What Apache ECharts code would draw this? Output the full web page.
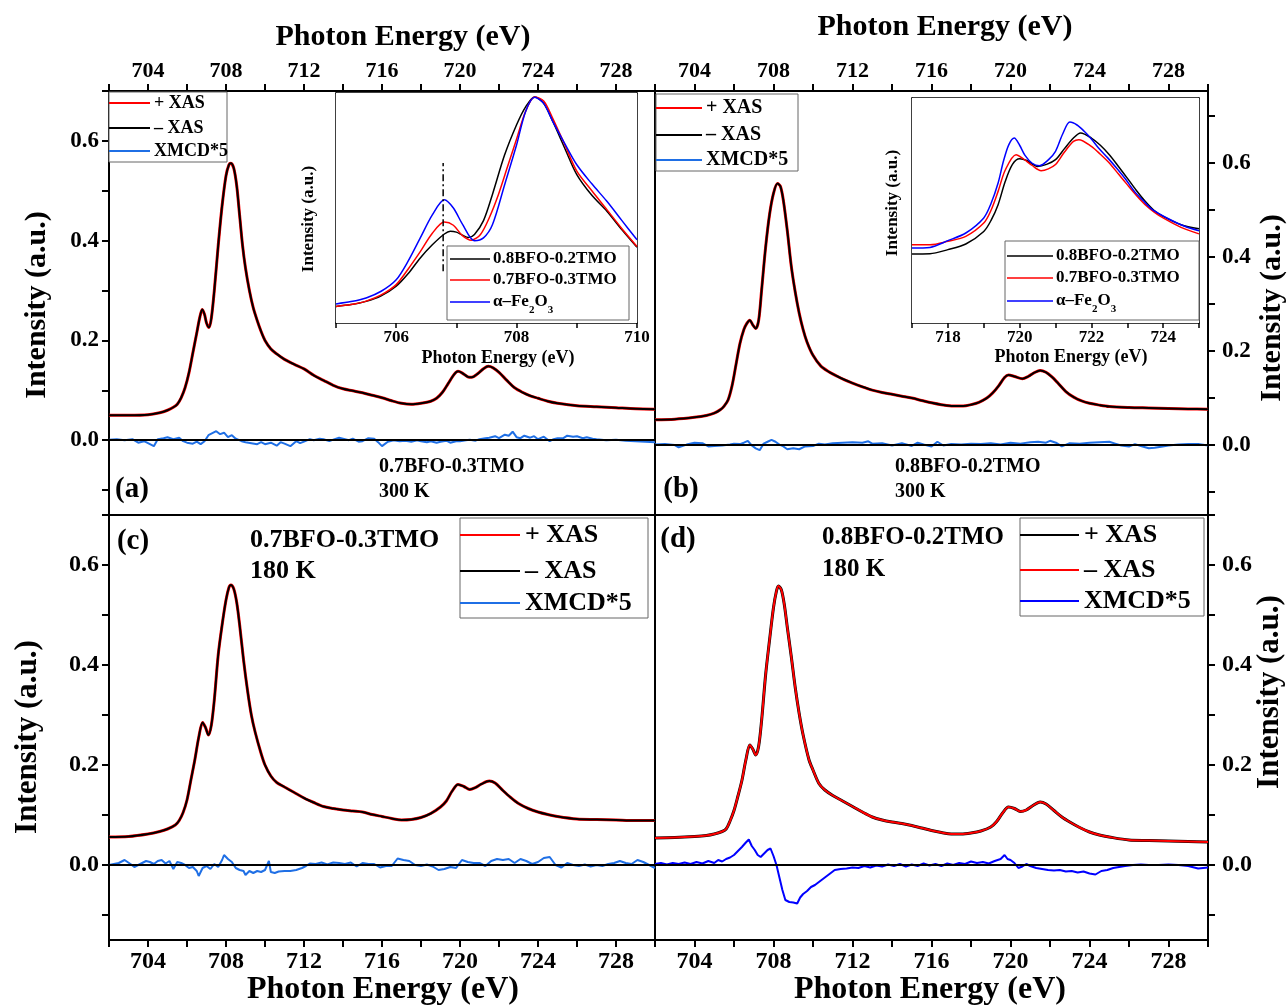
<!DOCTYPE html>
<html>
<head>
<meta charset="utf-8">
<title>Fe L-edge XAS / XMCD</title>
<script src="https://cdn.jsdelivr.net/npm/echarts@6.0.0/dist/echarts.min.js"></script>
<style>
html, body { margin: 0; padding: 0; background: #fff; }
#chart { width: 1288px; height: 1006px; }
</style>
</head>
<body>
<div id="chart"></div>
<script>
// tick positions
const xTicks = [702, 704, 706, 708, 710, 712, 714, 716, 718, 720, 722, 724, 726, 728, 730]
const xLabels = [704, 708, 712, 716, 720, 724, 728]
const yTicks = [-0.1, 0, 0.1, 0.2, 0.3, 0.4, 0.5, 0.6, 0.7]
const yLabels = [0, 0.2, 0.4, 0.6]
const insetATicks = [705, 706, 707, 708, 709, 710]
const insetALabels = [706, 708, 710]
const insetBTicks = [717, 718, 719, 720, 721, 722, 723, 724, 725]
const insetBLabels = [718, 720, 722, 724]

// (a) 0.7BFO-0.3TMO, 300 K
const xasA = [[702.0,0.050],[703.0,0.050],[704.0,0.051],[704.6,0.055],[705.0,0.060],[705.3,0.066],[705.5,0.072],[705.7,0.085],[705.9,0.105],[706.1,0.135],[706.3,0.175],[706.5,0.215],[706.65,0.245],[706.78,0.262],[706.9,0.252],[707.0,0.235],[707.13,0.226],[707.25,0.245],[707.4,0.30],[707.6,0.39],[707.8,0.47],[708.0,0.53],[708.15,0.552],[708.25,0.555],[708.4,0.545],[708.55,0.51],[708.7,0.45],[708.85,0.39],[709.0,0.345],[709.2,0.30],[709.4,0.265],[709.6,0.24],[709.8,0.218],[710.0,0.2],[710.3,0.183],[710.6,0.173],[711.0,0.162],[711.5,0.152],[712.0,0.143],[712.5,0.13],[713.0,0.12],[713.5,0.11],[714.0,0.103],[714.5,0.099],[715.0,0.095],[715.5,0.09],[716.0,0.085],[716.5,0.079],[717.0,0.074],[717.5,0.072],[718.0,0.074],[718.5,0.078],[718.8,0.084],[719.1,0.096],[719.4,0.114],[719.7,0.132],[719.9,0.138],[720.1,0.135],[720.4,0.127],[720.6,0.126],[720.9,0.133],[721.2,0.143],[721.45,0.148],[721.7,0.145],[722.0,0.136],[722.4,0.12],[722.8,0.105],[723.2,0.096],[723.6,0.089],[724.0,0.084],[724.5,0.078],[725.0,0.074],[726.0,0.069],[727.0,0.067],[728.0,0.065],[729.0,0.063],[730.0,0.062]]
const xmcdA = [[702.0,0.001],[702.4,0.002],[702.8,0.0],[703.2,0.002],[703.5,-0.005],[703.8,-0.002],[704.0,-0.006],[704.3,-0.012],[704.5,0.002],[704.8,0.004],[705.0,0.006],[705.3,0.002],[705.6,0.005],[705.8,-0.002],[706.0,-0.005],[706.3,-0.007],[706.5,-0.003],[706.7,-0.008],[706.9,-0.002],[707.1,0.01],[707.3,0.014],[707.5,0.018],[707.7,0.012],[707.9,0.015],[708.1,0.006],[708.3,0.01],[708.5,0.003],[708.8,-0.002],[709.0,-0.004],[709.3,-0.006],[709.6,-0.008],[709.8,-0.004],[710.0,-0.008],[710.3,-0.005],[710.6,-0.011],[710.8,-0.004],[711.0,-0.007],[711.3,-0.012],[711.6,-0.002],[711.8,-0.006],[712.0,-0.003],[712.3,0.002],[712.5,0.0],[712.8,0.003],[713.0,0.002],[713.3,-0.002],[713.5,0.001],[713.8,0.005],[714.0,0.003],[714.3,0.0],[714.5,0.003],[714.8,-0.003],[715.0,-0.002],[715.3,0.004],[715.6,0.003],[715.8,-0.004],[716.0,-0.012],[716.3,-0.003],[716.6,0.0],[716.9,-0.002],[717.2,-0.001],[717.5,-0.003],[717.8,0.0],[718.0,-0.002],[718.3,-0.004],[718.5,-0.002],[718.8,-0.005],[719.0,-0.003],[719.3,-0.001],[719.5,-0.005],[719.8,-0.002],[720.0,-0.002],[720.3,0.0],[720.5,0.001],[720.8,-0.001],[721.0,0.002],[721.3,0.004],[721.5,0.005],[721.8,0.008],[722.0,0.004],[722.3,0.011],[722.5,0.009],[722.7,0.017],[722.9,0.006],[723.1,0.004],[723.3,0.009],[723.6,0.005],[723.8,0.008],[724.0,0.002],[724.3,0.007],[724.6,-0.002],[724.8,0.002],[725.0,0.004],[725.3,0.004],[725.5,0.009],[725.8,0.007],[726.0,0.008],[726.3,0.004],[726.5,0.006],[726.8,0.003],[727.0,0.002],[727.5,0.0],[728.0,0.001],[728.5,-0.001],[729.0,-0.002],[729.5,-0.003],[730.0,-0.004]]

// (b) 0.8BFO-0.2TMO, 300 K
const xasB = [[702.0,0.053],[703.0,0.054],[704.0,0.058],[704.6,0.062],[705.0,0.067],[705.3,0.074],[705.5,0.082],[705.7,0.095],[705.9,0.125],[706.1,0.17],[706.3,0.215],[706.5,0.245],[706.65,0.258],[706.8,0.265],[706.95,0.255],[707.1,0.247],[707.25,0.265],[707.4,0.33],[707.6,0.42],[707.8,0.49],[708.0,0.535],[708.2,0.556],[708.35,0.55],[708.5,0.52],[708.7,0.455],[708.9,0.38],[709.1,0.325],[709.3,0.28],[709.5,0.245],[709.7,0.218],[710.0,0.19],[710.4,0.167],[710.8,0.155],[711.2,0.146],[711.6,0.138],[712.0,0.131],[712.5,0.123],[713.0,0.116],[713.5,0.111],[714.0,0.107],[714.5,0.103],[715.0,0.099],[715.5,0.094],[716.0,0.089],[716.5,0.085],[717.1,0.082],[717.6,0.082],[718.0,0.085],[718.4,0.09],[718.8,0.099],[719.1,0.11],[719.4,0.125],[719.7,0.143],[719.9,0.148],[720.2,0.145],[720.6,0.14],[720.9,0.145],[721.2,0.153],[721.5,0.158],[721.8,0.154],[722.1,0.144],[722.4,0.131],[722.8,0.113],[723.2,0.101],[723.6,0.093],[724.0,0.088],[724.5,0.084],[725.0,0.081],[726.0,0.079],[727.0,0.078],[728.0,0.077],[729.0,0.076],[730.0,0.075]]
const xmcdB = [[702.0,0.0],[702.5,0.001],[703.0,-0.001],[703.2,-0.006],[703.6,0.0],[704.0,0.004],[704.4,0.003],[704.7,-0.004],[705.0,-0.003],[705.4,-0.002],[705.8,0.0],[706.0,0.002],[706.3,0.001],[706.5,0.004],[706.7,0.008],[706.9,-0.002],[707.1,-0.008],[707.3,-0.012],[707.5,0.002],[707.7,0.006],[707.9,0.01],[708.1,0.006],[708.3,0.0],[708.5,-0.004],[708.7,-0.01],[709.0,-0.008],[709.3,-0.01],[709.6,-0.004],[710.0,-0.003],[710.3,0.002],[710.6,0.0],[711.0,0.003],[711.5,0.004],[712.0,0.005],[712.5,0.004],[712.8,0.007],[713.0,0.002],[713.5,0.003],[714.0,-0.002],[714.5,0.003],[715.0,-0.003],[715.3,0.004],[715.6,0.0],[716.0,-0.004],[716.3,0.006],[716.6,-0.002],[717.0,0.001],[717.5,0.0],[718.0,0.002],[718.5,0.001],[719.0,0.003],[719.5,0.0],[720.0,0.004],[720.5,0.002],[721.0,0.005],[721.4,0.006],[721.8,0.004],[722.0,0.008],[722.3,0.004],[722.6,-0.004],[723.0,0.003],[723.5,0.002],[724.0,0.004],[724.5,0.005],[725.0,0.006],[725.3,0.002],[725.6,-0.002],[726.0,-0.004],[726.3,0.001],[726.6,-0.003],[727.0,-0.008],[727.3,-0.007],[727.7,-0.004],[728.0,-0.002],[728.5,0.0],[729.0,0.001],[729.5,0.001],[730.0,-0.002]]

// (c) 0.7BFO-0.3TMO, 180 K
const xasC = [[702.0,0.056],[703.0,0.057],[704.0,0.062],[704.6,0.067],[705.0,0.072],[705.4,0.08],[705.6,0.089],[705.8,0.105],[706.0,0.13],[706.2,0.17],[706.4,0.21],[706.6,0.255],[706.8,0.285],[706.95,0.275],[707.1,0.26],[707.25,0.28],[707.4,0.33],[707.6,0.42],[707.8,0.48],[708.0,0.53],[708.15,0.555],[708.25,0.56],[708.4,0.552],[708.55,0.525],[708.7,0.48],[708.9,0.41],[709.1,0.35],[709.3,0.30],[709.5,0.265],[709.8,0.223],[710.0,0.2],[710.3,0.178],[710.6,0.165],[711.0,0.156],[711.5,0.145],[712.0,0.134],[712.5,0.125],[713.0,0.117],[713.5,0.113],[714.0,0.11],[714.5,0.108],[715.0,0.106],[715.5,0.101],[716.0,0.097],[716.5,0.093],[717.0,0.09],[717.5,0.091],[718.0,0.095],[718.5,0.103],[719.0,0.116],[719.3,0.128],[719.6,0.148],[719.9,0.161],[720.2,0.157],[720.5,0.151],[720.8,0.155],[721.1,0.162],[721.5,0.168],[721.8,0.164],[722.2,0.149],[722.6,0.135],[723.0,0.123],[723.5,0.113],[724.0,0.106],[724.5,0.101],[725.0,0.097],[726.0,0.092],[727.0,0.091],[728.0,0.09],[729.0,0.089],[730.0,0.089]]
const xmcdC = [[702.0,0.0],[702.5,0.004],[702.8,0.01],[703.1,0.002],[703.3,-0.004],[703.6,0.002],[703.9,0.008],[704.1,0.006],[704.3,0.002],[704.5,0.008],[704.7,0.01],[704.9,0.003],[705.0,0.005],[705.1,0.008],[705.3,-0.008],[705.5,0.006],[705.7,0.004],[705.9,0.0],[706.1,-0.006],[706.3,-0.004],[706.5,-0.012],[706.6,-0.022],[706.8,-0.006],[707.0,-0.002],[707.2,-0.008],[707.4,0.002],[707.6,-0.004],[707.8,0.01],[707.9,0.02],[708.1,0.012],[708.3,0.006],[708.5,-0.006],[708.7,-0.01],[708.9,-0.012],[709.0,-0.02],[709.2,-0.012],[709.4,-0.016],[709.6,-0.012],[709.8,-0.014],[710.0,-0.01],[710.2,0.008],[710.3,-0.014],[710.5,-0.016],[710.7,-0.013],[711.0,-0.012],[711.3,-0.012],[711.6,-0.01],[711.9,-0.006],[712.1,-0.002],[712.3,0.003],[712.6,0.002],[712.9,0.005],[713.2,0.001],[713.5,0.005],[713.8,0.004],[714.1,0.002],[714.4,0.005],[714.7,-0.003],[715.0,0.004],[715.3,0.002],[715.6,0.002],[715.9,-0.005],[716.2,-0.002],[716.5,-0.002],[716.8,0.013],[717.1,0.01],[717.4,0.008],[717.7,0.0],[718.0,-0.002],[718.3,0.001],[718.6,-0.003],[718.9,-0.01],[719.2,-0.008],[719.5,-0.004],[719.8,-0.006],[720.1,0.01],[720.4,0.006],[720.7,0.004],[721.0,0.004],[721.3,-0.002],[721.6,0.008],[721.9,0.012],[722.2,0.01],[722.5,0.012],[722.8,0.004],[723.1,0.012],[723.4,0.008],[723.7,0.002],[724.0,0.006],[724.3,0.014],[724.6,0.016],[724.9,0.0],[725.2,-0.005],[725.5,0.004],[725.8,0.0],[726.1,-0.002],[726.4,0.001],[726.7,-0.003],[727.0,0.0],[727.3,-0.002],[727.6,0.002],[727.9,0.004],[728.2,0.008],[728.5,0.004],[728.8,0.002],[729.1,0.01],[729.4,0.006],[729.7,0.0],[730.0,-0.006]]

// (d) 0.8BFO-0.2TMO, 180 K
const xasD = [[702.0,0.054],[703.0,0.055],[704.0,0.057],[704.6,0.059],[705.0,0.062],[705.4,0.067],[705.6,0.072],[705.8,0.088],[706.0,0.109],[706.2,0.138],[706.4,0.169],[706.6,0.21],[706.8,0.24],[706.95,0.232],[707.1,0.22],[707.25,0.238],[707.4,0.29],[707.6,0.38],[707.8,0.45],[708.0,0.515],[708.15,0.548],[708.25,0.558],[708.4,0.55],[708.55,0.52],[708.7,0.475],[708.9,0.417],[709.1,0.355],[709.3,0.303],[709.5,0.26],[709.8,0.21],[710.0,0.19],[710.3,0.163],[710.6,0.15],[711.0,0.139],[711.5,0.128],[712.0,0.117],[712.5,0.106],[713.0,0.096],[713.5,0.09],[714.0,0.086],[714.5,0.083],[715.0,0.079],[715.5,0.074],[716.0,0.069],[716.5,0.065],[717.0,0.062],[717.5,0.062],[718.0,0.064],[718.5,0.068],[719.0,0.076],[719.3,0.087],[719.6,0.104],[719.9,0.116],[720.2,0.113],[720.5,0.107],[720.8,0.11],[721.1,0.118],[721.5,0.126],[721.8,0.122],[722.2,0.109],[722.6,0.096],[723.0,0.086],[723.5,0.075],[724.0,0.066],[724.5,0.06],[725.0,0.056],[726.0,0.05],[727.0,0.049],[728.0,0.048],[729.0,0.047],[730.0,0.046]]
const xmcdD = [[702.0,0.002],[702.3,0.004],[702.6,0.001],[702.9,0.004],[703.2,0.002],[703.5,0.005],[703.8,0.002],[704.1,0.006],[704.4,0.003],[704.7,0.008],[705.0,0.004],[705.2,0.01],[705.4,0.007],[705.6,0.012],[705.8,0.015],[706.0,0.02],[706.2,0.028],[706.4,0.036],[706.6,0.045],[706.75,0.051],[706.9,0.038],[707.05,0.03],[707.2,0.02],[707.35,0.016],[707.5,0.022],[707.7,0.03],[707.85,0.033],[708.0,0.018],[708.15,0.0],[708.3,-0.025],[708.45,-0.05],[708.6,-0.07],[708.8,-0.074],[709.0,-0.075],[709.2,-0.077],[709.35,-0.065],[709.5,-0.058],[709.7,-0.052],[709.9,-0.044],[710.1,-0.04],[710.3,-0.034],[710.5,-0.028],[710.7,-0.022],[710.9,-0.016],[711.1,-0.01],[711.4,-0.008],[711.7,-0.007],[712.0,-0.005],[712.3,-0.006],[712.6,-0.002],[712.9,-0.005],[713.2,-0.001],[713.5,-0.003],[713.8,0.001],[714.1,-0.002],[714.4,0.002],[714.7,-0.003],[715.0,0.001],[715.3,-0.002],[715.6,0.003],[715.9,-0.001],[716.2,0.002],[716.5,-0.002],[716.8,0.003],[717.1,0.0],[717.4,0.004],[717.7,0.002],[718.0,0.007],[718.3,0.004],[718.6,0.006],[718.9,0.003],[719.2,0.008],[719.5,0.012],[719.7,0.02],[719.85,0.012],[720.0,0.01],[720.2,0.004],[720.4,-0.006],[720.6,-0.003],[720.8,0.002],[721.0,-0.002],[721.3,-0.006],[721.6,-0.008],[721.9,-0.01],[722.2,-0.011],[722.5,-0.01],[722.8,-0.013],[723.1,-0.012],[723.4,-0.015],[723.7,-0.013],[724.0,-0.017],[724.3,-0.019],[724.6,-0.012],[724.9,-0.01],[725.2,-0.006],[725.5,-0.004],[725.8,-0.002],[726.2,0.0],[726.6,0.001],[727.0,0.0],[727.5,0.0],[728.0,0.001],[728.5,0.0],[729.0,-0.002],[729.5,-0.007],[730.0,-0.005]]

// inset of (a): L3 edge, normalised
const l3Bfo82 = [[705.0,0.072],[705.25,0.08],[705.5,0.094],[705.75,0.118],[706.0,0.16],[706.2,0.215],[706.4,0.283],[706.6,0.34],[706.8,0.387],[706.9,0.399],[707.0,0.395],[707.1,0.382],[707.2,0.372],[707.3,0.385],[707.45,0.445],[707.6,0.56],[707.8,0.73],[708.0,0.862],[708.15,0.94],[708.3,0.983],[708.45,0.955],[708.6,0.877],[708.8,0.76],[709.0,0.645],[709.25,0.555],[709.5,0.486],[709.75,0.405],[710.0,0.329]]
const l3Bfo73 = [[705.0,0.072],[705.25,0.08],[705.5,0.095],[705.75,0.122],[706.0,0.167],[706.2,0.235],[706.4,0.31],[706.6,0.39],[706.8,0.439],[706.95,0.425],[707.1,0.38],[707.25,0.36],[707.4,0.385],[707.55,0.46],[707.7,0.56],[707.85,0.68],[708.0,0.8],[708.15,0.92],[708.3,0.983],[708.45,0.965],[708.6,0.89],[708.8,0.775],[709.0,0.66],[709.25,0.575],[709.5,0.493],[709.75,0.41],[710.0,0.333]]
const l3Fe2o3 = [[705.0,0.083],[705.25,0.093],[705.5,0.109],[705.75,0.138],[706.0,0.188],[706.2,0.27],[706.4,0.37],[706.6,0.47],[706.8,0.536],[706.95,0.5],[707.1,0.43],[707.3,0.358],[707.45,0.37],[707.6,0.428],[707.8,0.6],[708.0,0.775],[708.15,0.92],[708.3,0.981],[708.45,0.955],[708.6,0.877],[708.8,0.78],[709.0,0.688],[709.25,0.605],[709.5,0.529],[709.75,0.445],[710.0,0.362]]
const l3Marker = [[706.78,0.225],[706.78,0.696]]

// inset of (b): L2 edge, normalised
const l2Bfo82 = [[717.0,0.307],[717.5,0.308],[718.0,0.326],[718.5,0.351],[719.0,0.407],[719.2,0.455],[719.4,0.526],[719.6,0.63],[719.8,0.705],[720.0,0.73],[720.2,0.722],[720.5,0.696],[720.75,0.705],[721.0,0.726],[721.25,0.775],[721.5,0.822],[721.7,0.844],[722.0,0.822],[722.25,0.79],[722.5,0.748],[722.75,0.697],[723.0,0.644],[723.25,0.59],[723.5,0.541],[723.75,0.5],[724.0,0.474],[724.5,0.437],[725.0,0.419]]
const l2Bfo73 = [[717.0,0.348],[717.5,0.348],[718.0,0.363],[718.5,0.385],[719.0,0.444],[719.2,0.5],[719.4,0.585],[719.6,0.68],[719.9,0.748],[720.1,0.73],[720.35,0.7],[720.6,0.677],[720.8,0.685],[721.0,0.704],[721.25,0.76],[721.5,0.807],[721.65,0.815],[722.0,0.785],[722.25,0.75],[722.5,0.711],[722.75,0.663],[723.0,0.615],[723.25,0.568],[723.5,0.526],[723.75,0.493],[724.0,0.467],[724.5,0.425],[725.0,0.396]]
const l2Fe2o3 = [[717.0,0.333],[717.5,0.336],[718.0,0.366],[718.5,0.4],[719.0,0.467],[719.2,0.53],[719.4,0.622],[719.55,0.72],[719.7,0.793],[719.85,0.822],[720.0,0.79],[720.15,0.745],[720.35,0.71],[720.55,0.699],[720.8,0.725],[721.0,0.763],[721.2,0.84],[721.4,0.893],[721.6,0.88],[721.8,0.852],[722.0,0.818],[722.2,0.778],[722.45,0.735],[722.7,0.689],[722.95,0.64],[723.2,0.585],[723.45,0.543],[723.7,0.504],[724.2,0.459],[724.6,0.43],[725.0,0.41]]

const FONT = '"Liberation Serif", "Times New Roman", serif'
const RED = '#ff0000'
const BLACK = '#000000'
const LBLUE = '#1f6fe5'
const BLUE = '#0000ff'

function makeAxis(o) {
  return {
    type: 'value',
    gridIndex: o.grid,
    position: o.pos,
    min: o.min,
    max: o.max,
    axisLine: { show: true, onZero: false, lineStyle: { color: '#000', width: o.lw || 2 } },
    axisTick: {
      show: !!o.ticks,
      customValues: o.ticks || undefined,
      length: o.tickLen || 7,
      lineStyle: { color: '#000', width: o.lw || 2 }
    },
    axisLabel: {
      show: !!o.labels,
      customValues: o.labels || undefined,
      formatter: o.fmt,
      color: '#000',
      fontFamily: FONT,
      fontWeight: 'bold',
      fontSize: o.size || 22,
      margin: o.margin || 10
    },
    splitLine: { show: false }
  }
}

const fmtX = v => String(v)
const fmtY = v => v.toFixed(1)

const xAxes = [
  makeAxis({ grid: 0, pos: 'top', min: 702, max: 730, ticks: xTicks, labels: xLabels, fmt: fmtX, size: 22, margin: 9 }),
  makeAxis({ grid: 0, pos: 'bottom', min: 702, max: 730 }),
  makeAxis({ grid: 1, pos: 'top', min: 702, max: 730, ticks: xTicks, labels: xLabels, fmt: fmtX, size: 22, margin: 9 }),
  makeAxis({ grid: 1, pos: 'bottom', min: 702, max: 730 }),
  makeAxis({ grid: 2, pos: 'bottom', min: 702, max: 730, ticks: xTicks, labels: xLabels, fmt: fmtX, size: 24, margin: 10 }),
  makeAxis({ grid: 2, pos: 'top', min: 702, max: 730 }),
  makeAxis({ grid: 3, pos: 'bottom', min: 702, max: 730, ticks: xTicks, labels: xLabels, fmt: fmtX, size: 24, margin: 10 }),
  makeAxis({ grid: 3, pos: 'top', min: 702, max: 730 }),
  makeAxis({ grid: 4, pos: 'bottom', min: 705, max: 710, ticks: insetATicks, labels: insetALabels, fmt: fmtX, size: 17, margin: 6, lw: 1.5, tickLen: 5 }),
  makeAxis({ grid: 4, pos: 'top', min: 705, max: 710, lw: 1.5 }),
  makeAxis({ grid: 5, pos: 'bottom', min: 717, max: 725, ticks: insetBTicks, labels: insetBLabels, fmt: fmtX, size: 17, margin: 6, lw: 1.5, tickLen: 5 }),
  makeAxis({ grid: 5, pos: 'top', min: 717, max: 725, lw: 1.5 })
]

const yAxes = [
  makeAxis({ grid: 0, pos: 'left', min: -0.15, max: 0.7, ticks: yTicks, labels: yLabels, fmt: fmtY, size: 23, margin: 10 }),
  makeAxis({ grid: 0, pos: 'right', min: -0.15, max: 0.7 }),
  makeAxis({ grid: 1, pos: 'right', min: -0.15, max: 0.753, ticks: yTicks, labels: yLabels, fmt: fmtY, size: 23, margin: 14 }),
  makeAxis({ grid: 1, pos: 'left', min: -0.15, max: 0.753 }),
  makeAxis({ grid: 2, pos: 'left', min: -0.15, max: 0.7, ticks: yTicks, labels: yLabels, fmt: fmtY, size: 24, margin: 10 }),
  makeAxis({ grid: 2, pos: 'right', min: -0.15, max: 0.7 }),
  makeAxis({ grid: 3, pos: 'right', min: -0.15, max: 0.7, ticks: yTicks, labels: yLabels, fmt: fmtY, size: 24, margin: 14 }),
  makeAxis({ grid: 3, pos: 'left', min: -0.15, max: 0.7 }),
  makeAxis({ grid: 4, pos: 'left', min: 0, max: 1, lw: 1.5 }),
  makeAxis({ grid: 4, pos: 'right', min: 0, max: 1, lw: 1.5 }),
  makeAxis({ grid: 5, pos: 'left', min: 0, max: 1, lw: 1.5 }),
  makeAxis({ grid: 5, pos: 'right', min: 0, max: 1, lw: 1.5 })
]

function line(name, data, axis, color, width, smooth, z) {
  return {
    name: name,
    type: 'line',
    xAxisIndex: axis,
    yAxisIndex: axis,
    data: data,
    symbol: 'none',
    smooth: smooth ? 0.3 : false,
    lineStyle: { color: color, width: width },
    z: z || 2,
    silent: true
  }
}

function zeroLine(axis) {
  return {
    type: 'line',
    xAxisIndex: axis,
    yAxisIndex: axis,
    data: [],
    markLine: {
      silent: true,
      symbol: 'none',
      label: { show: false },
      lineStyle: { color: '#000', width: 2, type: 'solid' },
      data: [{ yAxis: 0 }]
    },
    z: 1
  }
}

const series = [
  // (a)
  zeroLine(0),
  line('+ XAS', xasA, 0, RED, 3, true),
  line('– XAS', xasA, 0, BLACK, 2, true),
  line('XMCD*5', xmcdA, 0, LBLUE, 2, false, 3),
  // (b)
  zeroLine(2),
  line('+ XAS', xasB, 2, RED, 3, true),
  line('– XAS', xasB, 2, BLACK, 2, true),
  line('XMCD*5', xmcdB, 2, LBLUE, 2, false, 3),
  // (c)
  zeroLine(4),
  line('+ XAS', xasC, 4, RED, 3, true),
  line('– XAS', xasC, 4, BLACK, 2, true),
  line('XMCD*5', xmcdC, 4, LBLUE, 2, false, 3),
  // (d)
  zeroLine(6),
  line('+ XAS', xasD, 6, BLACK, 3, true),
  line('– XAS', xasD, 6, RED, 2, true),
  line('XMCD*5', xmcdD, 6, BLUE, 2, false, 3),
  // insets
  line('0.8BFO-0.2TMO', l3Bfo82, 8, BLACK, 1.5, true, 5),
  line('0.7BFO-0.3TMO', l3Bfo73, 8, RED, 1.5, true, 5),
  line('α–Fe2O3', l3Fe2o3, 8, BLUE, 1.5, true, 5),
  {
    type: 'line', xAxisIndex: 8, yAxisIndex: 8, data: l3Marker, symbol: 'none', silent: true, z: 5,
    lineStyle: { color: '#000', width: 1.5, type: [7, 3, 2, 3] }
  },
  line('0.8BFO-0.2TMO', l2Bfo82, 10, BLACK, 1.5, true, 5),
  line('0.7BFO-0.3TMO', l2Bfo73, 10, RED, 1.5, true, 5),
  line('α–Fe2O3', l2Fe2o3, 10, BLUE, 1.5, true, 5)
]

function text(x, y, s, size, align, rot, extra) {
  const style = Object.assign({
    text: s,
    font: 'bold ' + size + 'px ' + FONT,
    fill: '#000',
    align: align || 'left',
    verticalAlign: 'middle',
    textAlign: align || 'left',
    textVerticalAlign: 'middle'
  }, extra || {})
  return { type: 'text', x: x, y: y, rotation: rot || 0, z: 100, style: style }
}

const subRich = {
  s: { font: 'bold 11px ' + FONT, verticalAlign: 'bottom', padding: [0, 0, -5, 0] }
}

function legendBox(box, x1, x2, tx, rows, items, size, lw) {
  const els = [{
    type: 'rect', z: 90,
    shape: { x: box[0], y: box[1], width: box[2], height: box[3] },
    style: { fill: '#fff', stroke: '#666', lineWidth: 1 }
  }]
  items.forEach((it, i) => {
    els.push({
      type: 'line', z: 91,
      shape: { x1: x1, y1: rows[i], x2: x2, y2: rows[i] },
      style: { stroke: it.color, lineWidth: lw }
    })
    els.push(text(tx, rows[i], it.text, size, 'left', 0, it.rich ? { rich: subRich } : null))
  })
  return els
}

const xasItems = [
  { text: '+ XAS', color: RED },
  { text: '– XAS', color: BLACK },
  { text: 'XMCD*5', color: LBLUE }
]
const xasItemsD = [
  { text: '+ XAS', color: BLACK },
  { text: '– XAS', color: RED },
  { text: 'XMCD*5', color: BLUE }
]
const insetItems = [
  { text: '0.8BFO-0.2TMO', color: BLACK },
  { text: '0.7BFO-0.3TMO', color: RED },
  { text: 'α–Fe{s|2}O{s|3}', color: BLUE, rich: true }
]

const R90 = Math.PI / 2
const graphics = [].concat(
  // axis titles
  text(403, 37, 'Photon Energy (eV)', 30, 'center'),
  text(945, 27, 'Photon Energy (eV)', 30, 'center'),
  text(383, 990, 'Photon Energy (eV)', 32, 'center'),
  text(930, 990, 'Photon Energy (eV)', 32, 'center'),
  text(37, 305, 'Intensity (a.u.)', 30, 'center', R90),
  text(28, 737, 'Intensity (a.u.)', 31, 'center', R90),
  text(1272, 308, 'Intensity (a.u.)', 30, 'center', R90),
  text(1270, 692, 'Intensity (a.u.)', 31, 'center', R90),
  // inset titles
  text(309, 219, 'Intensity (a.u.)', 17, 'center', R90),
  text(498, 358, 'Photon Energy (eV)', 18, 'center'),
  text(893, 203, 'Intensity (a.u.)', 17, 'center', R90),
  text(1071, 357, 'Photon Energy (eV)', 18, 'center'),
  // panel labels and sample notes
  text(132, 490, '(a)', 29, 'center'),
  text(681, 490, '(b)', 29, 'center'),
  text(133, 542, '(c)', 29, 'center'),
  text(678, 540, '(d)', 29, 'center'),
  text(379, 467, '0.7BFO-0.3TMO', 20),
  text(379, 492, '300 K', 20),
  text(895, 467, '0.8BFO-0.2TMO', 20),
  text(895, 492, '300 K', 20),
  text(250, 540, '0.7BFO-0.3TMO', 26),
  text(250, 571, '180 K', 26),
  text(822, 538, '0.8BFO-0.2TMO', 25),
  text(822, 570, '180 K', 25),
  // legends
  legendBox([109, 92, 118, 70], 109, 150, 154, [103, 128, 151], xasItems, 18, 2),
  legendBox([656, 94, 142, 77], 656, 702, 706, [108, 135, 160], xasItems, 20, 2),
  legendBox([460, 518, 188, 100], 460, 520, 525, [535, 571, 603], xasItems, 26, 2),
  legendBox([1020, 518, 184, 98], 1020, 1079, 1084, [535, 570, 601], xasItemsD, 26, 2),
  legendBox([447, 246, 182, 74], 450, 490, 493, [259, 280, 302], insetItems, 17, 1.5),
  legendBox([1005, 241, 194, 79], 1007, 1053, 1056, [256, 278, 301], insetItems, 17, 1.5)
)

const chart = echarts.init(document.getElementById('chart'), null, { renderer: 'canvas' })
chart.setOption({
  backgroundColor: '#fff',
  animation: false,
  grid: [
    { left: 109, top: 91, width: 546, height: 424 },
    { left: 655, top: 91, width: 553, height: 424 },
    { left: 109, top: 515, width: 546, height: 425 },
    { left: 655, top: 515, width: 553, height: 425 },
    { left: 336, top: 93, width: 301, height: 230, show: true, backgroundColor: '#fff', borderWidth: 0, z: 4 },
    { left: 912, top: 98, width: 287, height: 225, show: true, backgroundColor: '#fff', borderWidth: 0, z: 4 }
  ],
  xAxis: xAxes,
  yAxis: yAxes,
  series: series,
  graphic: { elements: graphics }
})
</script>
</body>
</html>
